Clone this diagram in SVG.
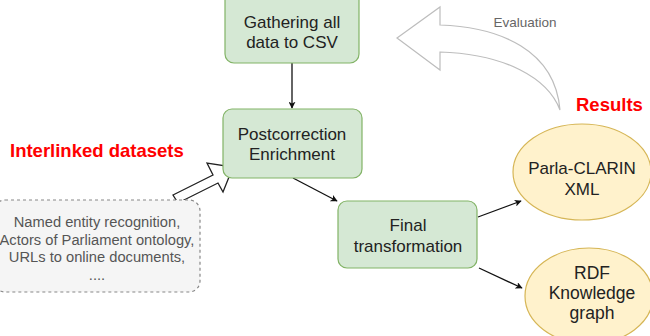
<svg xmlns="http://www.w3.org/2000/svg" width="650" height="336" viewBox="0 0 650 336">
<defs>
<style>
.box{fill:#d5e8d4;stroke:#82b366;stroke-width:1.2}
.ell{fill:#fff2cc;stroke:#d6b656;stroke-width:1.2}
.t{font-family:"Liberation Sans",Arial,sans-serif;font-size:17px;fill:#222;text-anchor:middle}
.red{font-family:"Liberation Sans",Arial,sans-serif;font-size:18.5px;font-weight:bold;fill:#ff0000}
.note{font-family:"Liberation Sans",Arial,sans-serif;font-size:14.7px;fill:#555;text-anchor:middle}
.edge{stroke:#111;stroke-width:1.3;fill:none;marker-end:url(#ah)}
</style>
<marker id="ah" viewBox="0 0 10 10" refX="9" refY="5" markerWidth="7" markerHeight="7" markerUnits="userSpaceOnUse" orient="auto">
<path d="M0,0 L10,5 L0,10 L2.5,5 Z" fill="#111"/>
</marker>
</defs>
<rect width="650" height="336" fill="#fff"/>

<g id="evaluation-arrow">
<path d="M560,110 C555,50 500,27 440,25 L440,7 L397,38 L440,70 L440,52 C505,54 548,78 560,110 Z" fill="#fff" stroke="#bdbdbd" stroke-width="1.2"/>
<text x="525" y="27" style="font-family:'Liberation Sans',Arial,sans-serif;font-size:13.5px;fill:#666;text-anchor:middle">Evaluation</text>
</g>

<g id="interlink-arrow">
<polygon points="173,195 213,175 207,163 233,167 223,192 218,183 178,203" fill="#fff" stroke="#222" stroke-width="1.3"/>
</g>

<g id="connectors">
<line class="edge" x1="292" y1="63" x2="292" y2="108"/>
<line class="edge" x1="293" y1="178" x2="337" y2="201"/>
<line class="edge" x1="478" y1="217" x2="521" y2="201"/>
<line class="edge" x1="479" y1="268" x2="522" y2="288"/>
</g>

<g id="gathering">
<rect class="box" x="225" y="-10" width="134" height="73" rx="9"/>
<text class="t" x="292" y="28">Gathering all</text>
<text class="t" x="292" y="48">data to CSV</text>
</g>

<g id="postcorrection">
<rect class="box" x="223" y="109" width="139" height="69" rx="9"/>
<text class="t" x="292" y="140">Postcorrection</text>
<text class="t" x="292" y="160">Enrichment</text>
</g>

<g id="final">
<rect class="box" x="338" y="201" width="139" height="67" rx="9"/>
<text class="t" x="408" y="231">Final</text>
<text class="t" x="408" y="252">transformation</text>
</g>

<g id="parla-clarin">
<ellipse class="ell" cx="582" cy="172" rx="69" ry="48"/>
<text class="t" x="582" y="174">Parla-CLARIN</text>
<text class="t" x="582" y="195">XML</text>
</g>

<g id="rdf">
<ellipse class="ell" cx="589" cy="296" rx="64" ry="48"/>
<text class="t" x="592" y="279" style="font-size:17.5px">RDF</text>
<text class="t" x="592" y="299" style="font-size:17.5px">Knowledge</text>
<text class="t" x="592" y="319" style="font-size:17.5px">graph</text>
</g>

<g id="datasets-note">
<rect x="-6" y="200" width="206" height="92" rx="11" fill="#f5f5f5" stroke="#888" stroke-width="1.2" stroke-dasharray="3,3"/>
<text class="note" x="97" y="227">Named entity recognition,</text>
<text class="note" x="97" y="244.5">Actors of Parliament ontology,</text>
<text class="note" x="97" y="262">URLs to online documents,</text>
<text class="note" x="97" y="279.5">....</text>
</g>

<g id="labels">
<text class="red" x="10" y="157">Interlinked datasets</text>
<text class="red" x="576" y="111">Results</text>
</g>
</svg>
